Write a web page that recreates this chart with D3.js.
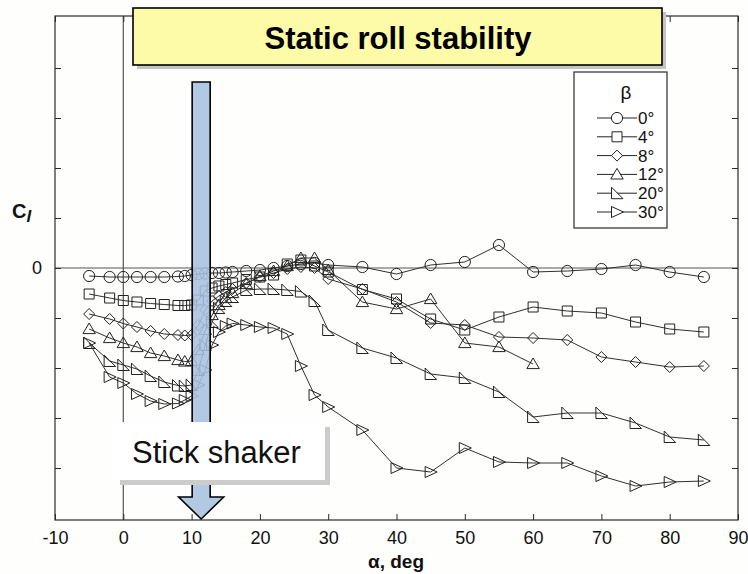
<!DOCTYPE html>
<html>
<head>
<meta charset="utf-8">
<script src="https://cdn.jsdelivr.net/npm/d3@7"></script>
<style>
  body { margin: 0; background: #fefefc; }
  svg { display: block; }
  text { font-family: "Liberation Sans", Arial, Helvetica, sans-serif; }
</style>
</head>
<body>
<script>
// Angle of attack, deg
const alpha = [-5, -2, 0, 2, 4, 6, 8, 9, 10, 11, 12, 13, 14, 15, 16, 18, 20, 22, 24, 26, 28, 30,
               35, 40, 45, 50, 55, 60, 65, 70, 75, 80, 85];

// Rolling-moment coefficient, in units of one axis division, for each sideslip angle
const clBeta0  = [-0.16, -0.18, -0.18, -0.18, -0.18, -0.18, -0.17, -0.16, -0.14, -0.12, -0.11, -0.10, -0.10, -0.09, -0.08,
                  -0.06, -0.04, 0.00, 0.04, 0.08, 0.10, 0.06, 0.02, -0.12, 0.06, 0.12, 0.46, -0.08, -0.06, -0.02, 0.06, -0.08, -0.18];
const clBeta4  = [-0.52, -0.60, -0.65, -0.68, -0.71, -0.73, -0.75, -0.75, -0.74, -0.64, -0.46, -0.40, -0.36, -0.33, -0.30,
                  -0.23, -0.18, -0.14, 0.08, 0.16, 0.04, -0.08, -0.43, -0.62, -1.02, -1.24, -0.98, -0.78, -0.86, -0.90, -1.08, -1.22, -1.28];
const clBeta8  = [-0.92, -1.02, -1.11, -1.18, -1.26, -1.32, -1.34, -1.35, -1.34, -1.14, -0.84, -0.66, -0.56, -0.48, -0.42,
                  -0.30, -0.18, -0.10, -0.02, 0.02, 0.00, -0.22, -0.42, -0.68, -1.10, -1.14, -1.38, -1.40, -1.44, -1.78, -1.88, -1.98, -1.96];
const clBeta12 = [-1.22, -1.40, -1.50, -1.58, -1.70, -1.76, -1.84, -1.87, -1.86, -1.64, -1.24, -0.94, -0.74, -0.60, -0.50,
                  -0.32, -0.16, -0.06, 0.04, 0.20, 0.20, -0.04, -0.68, -0.82, -0.62, -1.50, -1.58, -1.92, null, null, null, null, null];
const clBeta20 = [-1.50, -1.86, -1.94, -2.02, -2.16, -2.28, -2.35, -2.36, -2.34, -2.04, -1.54, -1.08, -0.80, -0.66, -0.58,
                  -0.44, -0.42, -0.42, -0.44, -0.47, -0.66, -1.24, -1.60, -1.80, -2.12, -2.20, -2.48, -2.98, -2.90, -2.90, -3.10, -3.38, -3.44];
const clBeta30 = [-1.50, -2.18, -2.30, -2.52, -2.66, -2.72, -2.71, -2.64, -2.56, -2.34, -2.04, -1.54, -1.28, -1.16, -1.11,
                  -1.14, -1.18, -1.20, -1.32, -1.96, -2.54, -2.78, -3.24, -4.00, -4.08, -3.60, -3.88, -3.90, -3.90, -4.16, -4.36, -4.28, -4.26];

const betaLabels = ["0°", "4°", "8°", "12°", "20°", "30°"];
const markerKinds = ["circle", "square", "diamond", "triangle", "corner", "wedge"];

const xTicks = [-10, 0, 10, 20, 30, 40, 50, 60, 70, 80, 90];
const yTicks = [-4, -3, -2, -1, 0, 1, 2, 3, 4];
const yTickLabels = { 0: "0" };

const series = [clBeta0, clBeta4, clBeta8, clBeta12, clBeta20, clBeta30].map((vals, i) => ({
  label: betaLabels[i],
  kind: markerKinds[i],
  points: alpha.map((a, j) => ({ a, v: vals[j] })).filter(p => p.v != null)
}));

const W = 748, H = 574;
const svg = d3.select("body").append("svg").attr("width", W).attr("height", H);

const x = d3.scaleLinear().domain([-10, 90]).range([55, 738]);
const y = d3.scaleLinear().domain([-5.04, 5.04]).range([520, 16]);

const ink = "#2a2a2a";

// Reference lines at alpha = 0 and Cl = 0
svg.append("line").attr("x1", x(0)).attr("x2", x(0)).attr("y1", y(5.04)).attr("y2", y(-5.04))
  .attr("stroke", "#555").attr("stroke-width", 1.2);
svg.append("line").attr("x1", x(-10)).attr("x2", x(90)).attr("y1", y(0)).attr("y2", y(0))
  .attr("stroke", "#555").attr("stroke-width", 1.2);

// Axes with inward ticks on all four sides
const axisStyle = g => {
  g.select(".domain").remove();
  g.selectAll(".tick line").attr("stroke", ink).attr("stroke-width", 1);
  g.selectAll(".tick text").attr("fill", "#111").style("font-size", "18px")
    .style("font-family", "'Liberation Sans', Arial, sans-serif");
};
svg.append("g").attr("transform", `translate(0,${y(-5.04)})`)
  .call(d3.axisBottom(x).tickValues(xTicks).tickSize(-6).tickPadding(11).tickFormat(d => String(d)))
  .call(axisStyle);
svg.append("g").attr("transform", `translate(0,${y(5.04)})`)
  .call(d3.axisTop(x).tickValues(xTicks).tickSize(-6).tickFormat(""))
  .call(axisStyle);
svg.append("g").attr("transform", `translate(${x(-10)},0)`)
  .call(d3.axisLeft(y).tickValues(yTicks).tickSize(-6).tickPadding(13).tickFormat(d => yTickLabels[d] || ""))
  .call(axisStyle);
svg.append("g").attr("transform", `translate(${x(90)},0)`)
  .call(d3.axisRight(y).tickValues(yTicks).tickSize(-6).tickFormat(""))
  .call(axisStyle);

// Plot frame
svg.append("rect")
  .attr("x", x(-10)).attr("y", y(5.04))
  .attr("width", x(90) - x(-10)).attr("height", y(-5.04) - y(5.04))
  .attr("fill", "none").attr("stroke", ink).attr("stroke-width", 1.2);

// Hollow marker shapes
function markerPath(kind) {
  switch (kind) {
    case "circle":   return d3.arc()({ innerRadius: 0, outerRadius: 5.6, startAngle: 0, endAngle: 2 * Math.PI });
    case "square":   return "M-5,-5H5V5H-5Z";
    case "diamond":  return "M0,-5.5L5.5,0L0,5.5L-5.5,0Z";
    case "triangle": return "M0,-6L6.2,4.6L-6.2,4.6Z";
    case "corner":   return "M-5.5,-6L-5.5,5.5L6,5.5Z";
    case "wedge":    return "M-5.5,-5.5L-5.5,5.5L6.5,0Z";
  }
}

const line = d3.line().x(d => x(d.a)).y(d => y(d.v));

const gData = svg.append("g");
series.forEach(s => {
  gData.append("path").datum(s.points)
    .attr("d", line).attr("fill", "none").attr("stroke", "#303030").attr("stroke-width", 1);
  gData.append("g").selectAll("path").data(s.points).join("path")
    .attr("transform", d => `translate(${x(d.a)},${y(d.v)})`)
    .attr("d", markerPath(s.kind))
    .attr("fill", "none").attr("stroke", "#222").attr("stroke-width", 1);
});

// Legend
const lg = svg.append("g");
lg.append("rect").attr("x", 574).attr("y", 72).attr("width", 93).attr("height", 156)
  .attr("fill", "#fff").attr("stroke", ink).attr("stroke-width", 1.2);
lg.append("text").attr("x", 626).attr("y", 99).attr("text-anchor", "middle")
  .style("font-size", "19px").attr("fill", "#111").text("β");
series.forEach((s, i) => {
  const cy = 118 + i * 18.8;
  lg.append("line").attr("x1", 597).attr("x2", 637).attr("y1", cy).attr("y2", cy)
    .attr("stroke", "#222").attr("stroke-width", 1);
  lg.append("path").attr("transform", `translate(617,${cy})`).attr("d", markerPath(s.kind))
    .attr("fill", "#fff").attr("stroke", "#222").attr("stroke-width", 1);
  lg.append("text").attr("x", 638).attr("y", cy + 6)
    .style("font-size", "17px").attr("fill", "#111").text(s.label);
});

// Axis titles
const cl = svg.append("text").attr("x", 12).attr("y", 218)
  .style("font-size", "20px").style("font-weight", "bold").attr("fill", "#111");
cl.append("tspan").text("C");
cl.append("tspan").attr("dy", 4).style("font-style", "italic").style("font-size", "17px").text("l");

svg.append("text").attr("x", 396).attr("y", 568).attr("text-anchor", "middle")
  .style("font-size", "19px").style("font-weight", "bold").attr("fill", "#111").text("α, deg");

// Stick shaker marker at alpha ≈ 11.4 deg
const shakerAlpha = 11.4;
const sx = x(shakerAlpha);
const shaft = 9, head = 22.5, shaftTop = 82, headTop = 497, tip = 519;
svg.append("path")
  .attr("d", `M${sx - shaft},${shaftTop}H${sx + shaft}V${headTop}H${sx + head}L${sx},${tip}L${sx - head},${headTop}H${sx - shaft}Z`)
  .attr("fill", "#a7c2e0").attr("fill-opacity", 0.88)
  .attr("stroke", "#000").attr("stroke-width", 1.6).attr("stroke-linejoin", "miter");

svg.append("rect").attr("x", 120).attr("y", 427).attr("width", 210).attr("height", 58).attr("fill", "#cccccc");
svg.append("rect").attr("x", 116).attr("y", 422).attr("width", 209).attr("height", 58).attr("fill", "#fff");
svg.append("text").attr("x", 132).attr("y", 463)
  .style("font-size", "31px").attr("fill", "#111").text("Stick shaker");

// Title banner
svg.append("rect").attr("x", 137).attr("y", 12).attr("width", 529).attr("height", 57).attr("fill", "#c4c4c4");
svg.append("rect").attr("x", 133).attr("y", 8).attr("width", 529).attr("height", 57)
  .attr("fill", "#fdfaa8").attr("stroke", "#000").attr("stroke-width", 1.6);
svg.append("text").attr("x", 398).attr("y", 49).attr("text-anchor", "middle")
  .style("font-size", "31px").style("font-weight", "bold").attr("fill", "#000").text("Static roll stability");
</script>
</body>
</html>
